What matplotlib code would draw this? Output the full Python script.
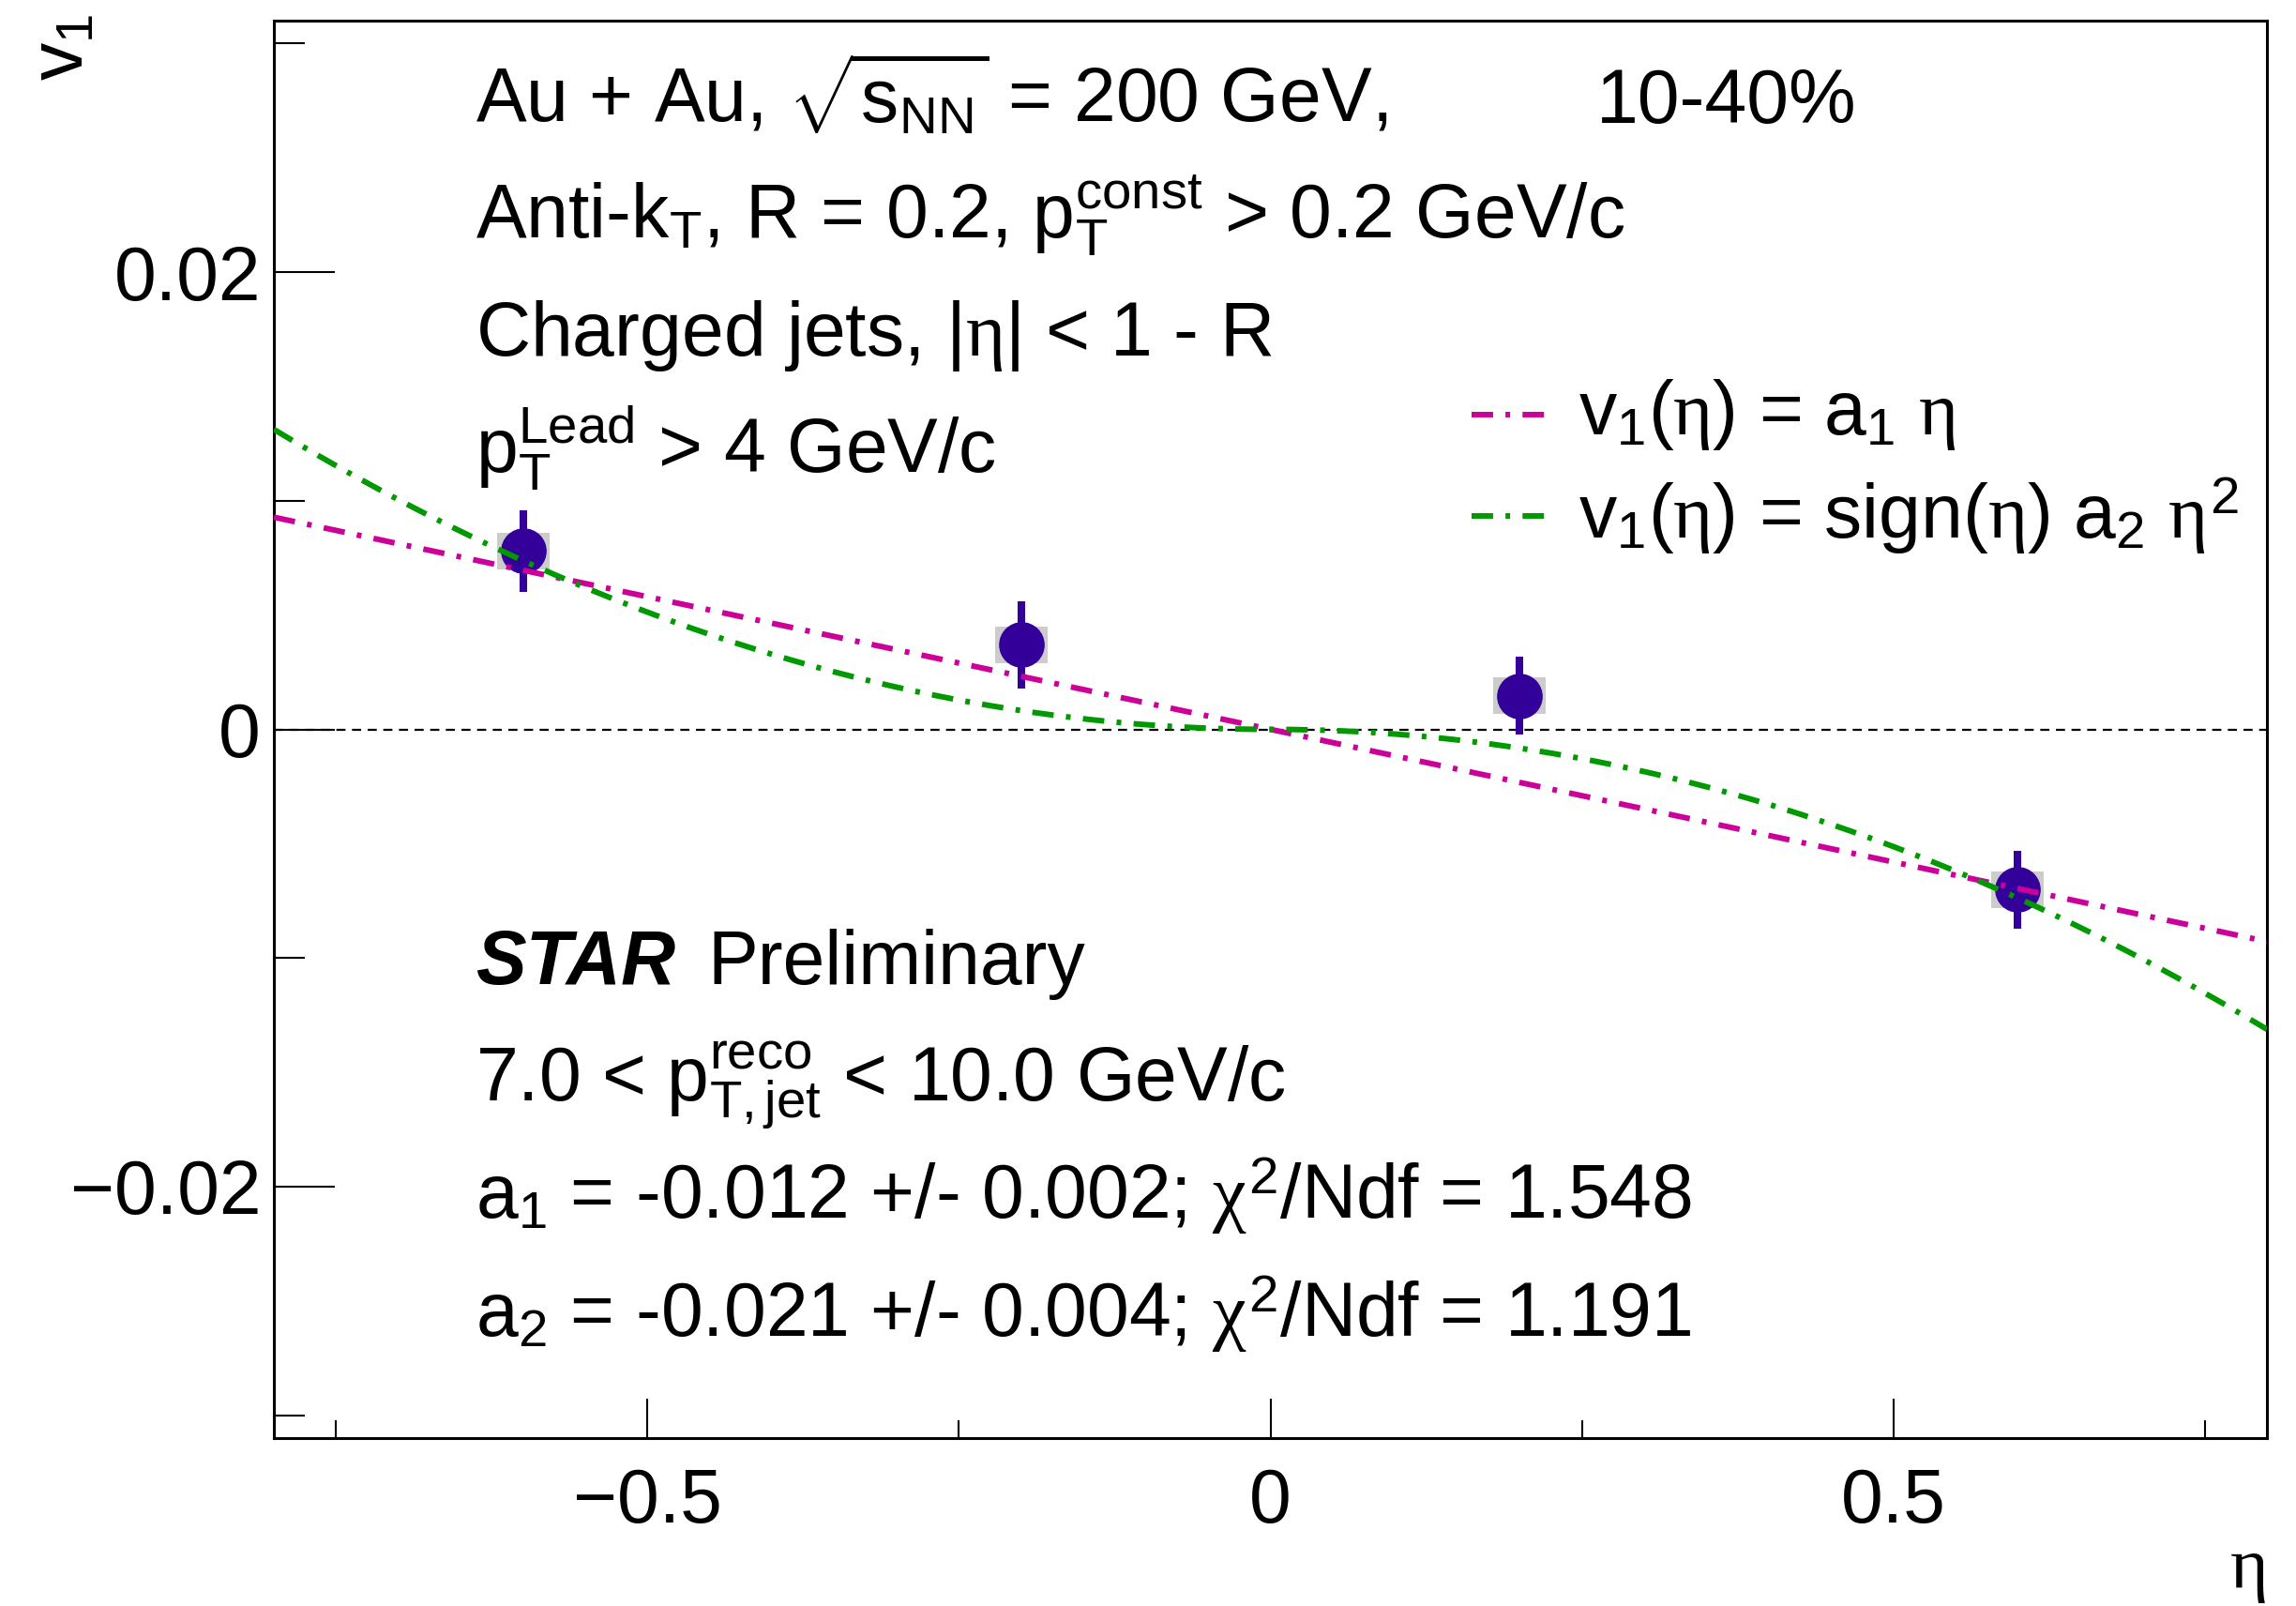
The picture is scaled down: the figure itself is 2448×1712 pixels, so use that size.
import numpy as np
import matplotlib
matplotlib.use("Agg")
import matplotlib.pyplot as plt

plt.rcParams['font.family'] = ['Liberation Sans', 'DejaVu Sans']
plt.rcParams['mathtext.fontset'] = 'custom'
plt.rcParams['mathtext.rm'] = 'Liberation Sans'
plt.rcParams['mathtext.it'] = 'Liberation Serif'
plt.rcParams['mathtext.bf'] = 'Liberation Sans:bold'
plt.rcParams['lines.scale_dashes'] = False

# data
eta = [-0.6, -0.2, 0.2, 0.6]
v1 = [0.0078, 0.0037, 0.00147, -0.0070]
v1_stat = [0.0018, 0.0019, 0.0017, 0.0017]
v1_sys = [0.0008, 0.0008, 0.0008, 0.0008]
sys_width = 0.042

# fitted parameters (as drawn)
a1 = -0.0116
a2 = -0.0205

fig = plt.figure(figsize=(24.48, 17.12), dpi=100)
ax = fig.add_axes([292/2448, 179/1712, 2125/2448, 1511/1712])

ax.set_xlim(-0.8, 0.8)
ax.set_ylim(-0.031, 0.031)

# zero line
ax.axhline(0, color='black', lw=1.6, ls=(0, (7, 5)), zorder=1)

# fit curves
xx = np.linspace(-0.8, 0.8, 400)
pat = (0, (16.5, 9.5, 3.6, 9.5))
ax.plot(xx, a1*xx, color='#cc0099', lw=4.3, ls=pat, dash_capstyle='butt', zorder=4)
ax.plot(xx, np.sign(xx)*a2*xx**2, color='#009900', lw=4.3, ls=pat, dash_capstyle='butt', zorder=4)

# systematic boxes
ax.bar(eta, [2*s for s in v1_sys], bottom=[v - s for v, s in zip(v1, v1_sys)],
       width=sys_width, color='#cccccc', zorder=2)
# points with stat errors
ax.errorbar(eta, v1, yerr=v1_stat, fmt='o', color='#330099', ms=34, elinewidth=5.8,
            capsize=0, zorder=3)

# axes style
for s in ['left', 'bottom', 'right', 'top']:
    ax.spines[s].set_linewidth(2.2)
ax.set_xticks([-0.5, 0, 0.5])
ax.set_xticks([-0.75, -0.25, 0.25, 0.75], minor=True)
ax.set_yticks([-0.02, 0, 0.02])
ax.set_yticks([-0.03, -0.01, 0.01, 0.03], minor=True)
ax.set_xticklabels(['\u22120.5', '0', '0.5'])
ax.set_yticklabels(['\u22120.02', '0', '0.02'])
ax.tick_params(axis='x', which='major', direction='in', length=30, width=1.5,
               labelsize=58, pad=22, top=False)
ax.tick_params(axis='x', which='minor', direction='in', length=14, width=1.5, top=False)
ax.tick_params(axis='y', which='major', direction='in', length=47, width=1.5,
               labelsize=58, pad=10, right=False)
ax.tick_params(axis='y', which='minor', direction='in', length=24, width=1.5, right=False)

fig.text(68/2448, 1 - 50/1712, r'v$_{\rm 1}$', fontsize=58, rotation=90, ha='center', va='center')
fig.text(2396/2448, 1 - 1692/1712, r'$\eta$', fontsize=56, ha='center', va='baseline')

fs = 58
tx = 0.101
ax.text(tx, 0.928, r'Au + Au, $\sqrt{\rm s_{NN}}$ = 200 GeV,', transform=ax.transAxes, fontsize=fs)
ax.text(0.6635, 0.928, '10-40%', transform=ax.transAxes, fontsize=fs)
ax.text(tx, 0.846, r'Anti-k$_{\rm T}$, R = 0.2, p$_{\rm T}^{\rm const}$ > 0.2 GeV/c',
        transform=ax.transAxes, fontsize=fs)
ax.text(tx, 0.764, r'Charged jets, |$\eta$| < 1 - R', transform=ax.transAxes, fontsize=fs)
ax.text(tx, 0.681, r'p$_{\rm T}^{\rm Lead}$ > 4 GeV/c', transform=ax.transAxes, fontsize=fs)

ax.text(tx, 0.320, 'STAR', transform=ax.transAxes, fontsize=fs, fontweight='bold', style='italic')
ax.text(0.2174, 0.320, 'Preliminary', transform=ax.transAxes, fontsize=fs)
ax.text(tx, 0.2376, r'7.0 < p$_{\rm T,jet}^{\rm reco}$ < 10.0 GeV/c', transform=ax.transAxes, fontsize=fs)
ax.text(tx, 0.1549, r'a$_{\rm 1}$ = -0.012 +/- 0.002; $\chi^{\rm 2}$/Ndf = 1.548',
        transform=ax.transAxes, fontsize=fs)
ax.text(tx, 0.0715, r'a$_{\rm 2}$ = -0.021 +/- 0.004; $\chi^{\rm 2}$/Ndf = 1.191',
        transform=ax.transAxes, fontsize=fs)

# legend drawn by hand
leg_x = [0.601, 0.640]
leg_y = [0.722, 0.6506]
leg_col = ['#cc0099', '#009900']
leg_lab = [r'v$_{\rm 1}$($\eta$) = a$_{\rm 1}$ $\eta$',
           r'v$_{\rm 1}$($\eta$) = sign($\eta$) a$_{\rm 2}$ $\eta^{\rm 2}$']
for y, c, lab in zip(leg_y, leg_col, leg_lab):
    ax.plot(leg_x, [y, y], transform=ax.transAxes, color=c, lw=4.3, ls=pat,
            dash_capstyle='butt', clip_on=False)
    ax.text(0.6546, y, lab, transform=ax.transAxes, fontsize=fs, va='center')

fig.savefig('out.png', dpi=100)
